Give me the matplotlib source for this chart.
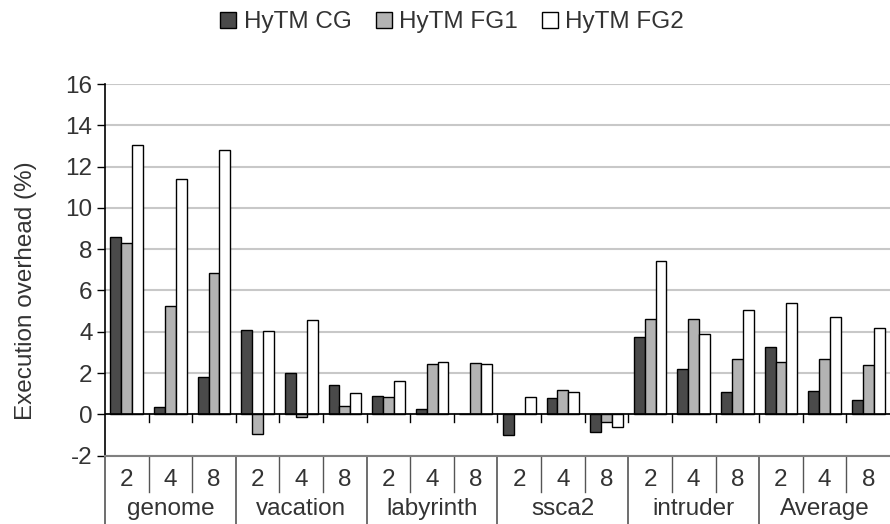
import numpy as np
import matplotlib
matplotlib.use("Agg")
import matplotlib.pyplot as plt
from matplotlib.patches import Patch

plt.rcParams["font.family"] = ["Liberation Sans", "DejaVu Sans"]
plt.rcParams["axes.unicode_minus"] = False

# Benchmarks, thread counts and overhead per HyTM variant (%)
benchmarks = ["genome", "vacation", "labyrinth", "ssca2", "intruder", "Average"]
threads = ["2", "4", "8"]
series_names = ["HyTM CG", "HyTM FG1", "HyTM FG2"]

hytm_cg = [8.57, 0.37, 1.81, 4.10, 1.98, 1.42, 0.89, 0.26, 0.02,
           -0.99, 0.77, -0.87, 3.76, 2.18, 1.09, 3.27, 1.11, 0.69]
hytm_fg1 = [8.31, 5.24, 6.84, -0.94, -0.13, 0.42, 0.82, 2.42, 2.47,
            0.0, 1.18, -0.37, 4.61, 4.63, 2.66, 2.56, 2.66, 2.40]
hytm_fg2 = [13.03, 11.42, 12.81, 4.02, 4.55, 1.02, 1.61, 2.55, 2.43,
            0.85, 1.06, -0.60, 7.42, 3.89, 5.05, 5.39, 4.71, 4.16]

colors = ["#4a4a4a", "#b3b3b3", "#ffffff"]
text_color = "#333333"
fs = 17.5

fig = plt.figure(figsize=(8.9, 5.24), dpi=100)
ax = fig.add_axes([105 / 890, 0.1305, 1 - 105 / 890, 0.8395 - 0.1305])

n_groups = len(benchmarks) * len(threads)
x = np.arange(n_groups)
width = 0.25
for i, (vals, c) in enumerate(zip([hytm_cg, hytm_fg1, hytm_fg2], colors)):
    ax.bar(x + (i - 1) * width, vals, width, color=c, edgecolor="black",
           linewidth=1.0, zorder=3)

ax.set_xlim(-0.5, n_groups - 0.5)
ax.set_ylim(-2, 16)
ax.set_yticks(np.arange(-2, 17, 2))
ax.yaxis.grid(True, color="#c8c8c8", linewidth=1.5, zorder=0)
ax.set_axisbelow(True)
ax.tick_params(axis="y", labelsize=fs, labelcolor=text_color, length=6,
               width=1, pad=3)
ax.set_ylabel("Execution overhead (%)", fontsize=fs, color=text_color)
ax.yaxis.set_label_coords(-0.087, 0.445)

for s in ["top", "right", "bottom"]:
    ax.spines[s].set_visible(False)
ax.spines["left"].set_linewidth(1.2)
ax.set_xticks([])

# zero line and group separators hanging off it
ax.axhline(0, color="black", linewidth=1.2, zorder=4)
for b in np.arange(0.5, n_groups - 0.5, 1.0):
    ax.plot([b, b], [0, -0.35], color="black", linewidth=1.0, clip_on=False)

# two-level category table under the plot
ax.plot([-0.5, n_groups - 0.5], [-2, -2], color="#808080", linewidth=1.5,
        clip_on=False, zorder=5)
ax.plot([-0.5, -0.5], [-2, -5.4], color="#555555", linewidth=1.2, clip_on=False)
for g in range(1, n_groups):
    edge = g - 0.5
    if g % 3 == 0:
        ax.plot([edge, edge], [-2, -5.4], color="#555555", linewidth=1.2,
                clip_on=False)
    else:
        ax.plot([edge, edge], [-2, -3.76], color="#555555", linewidth=1.0,
                clip_on=False)
for g in range(n_groups):
    ax.text(g, -3.2, threads[g % 3], ha="center", va="center", fontsize=fs,
            color=text_color, clip_on=False)
for k, name in enumerate(benchmarks):
    ax.text(3 * k + 1, -4.6, name, ha="center", va="center", fontsize=fs,
            color=text_color, clip_on=False)

handles = [Patch(facecolor=c, edgecolor="black", linewidth=1.0) for c in colors]
leg = fig.legend(handles, series_names, loc="upper center",
                 bbox_to_anchor=(0.508, 1.02), ncol=3, frameon=False,
                 fontsize=fs, handlelength=0.65, handleheight=0.65,
                 handletextpad=0.3, columnspacing=1.0)
for t in leg.get_texts():
    t.set_color(text_color)

fig.savefig("out.png", dpi=100)
